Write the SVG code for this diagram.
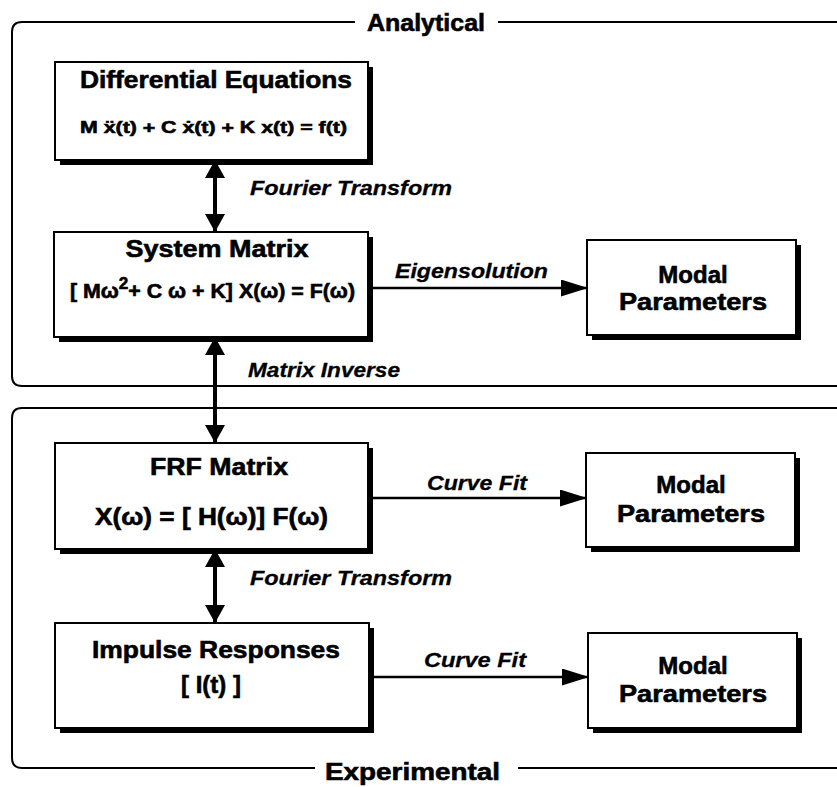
<svg xmlns="http://www.w3.org/2000/svg" width="837" height="787" viewBox="0 0 837 787">
<style>
.frame{fill:none;stroke:#000;stroke-width:2}
.shadow{fill:#000}
.box{fill:#fff;stroke:#000;stroke-width:2}
.t{font-family:"Liberation Sans",Arial,sans-serif;font-weight:bold;fill:#000;stroke:#000;stroke-width:0.6}
.h{font-size:24px;text-anchor:middle}
.f{font-size:20px}
.lbl{font-family:"Liberation Sans",Arial,sans-serif;font-weight:bold;font-style:italic;font-size:20px;fill:#000;stroke:#000;stroke-width:0.3}
.vl{stroke:#000;stroke-width:4;fill:none}
.hl{stroke:#000;stroke-width:2.5;fill:none}
</style>
<defs>
<marker id="vh" markerUnits="userSpaceOnUse" markerWidth="20" markerHeight="20" viewBox="0 0 18 20" refX="17" refY="10" orient="auto-start-reverse">
<path d="M0,0 L18,10 L0,20 Z" fill="#000"/>
</marker>
<marker id="hh" markerUnits="userSpaceOnUse" markerWidth="27" markerHeight="17" viewBox="0 0 27 17" refX="26" refY="8.5" orient="auto">
<path d="M0,0 L27,8.5 L0,17 Z" fill="#000"/>
</marker>
</defs>
<g id="frames">
<path class="frame" d="M355,22 H22 Q12,22 12,32 V376 Q12,386 22,386 H840 M498,22 H840"/>
<path class="frame" d="M840,408 H22 Q12,408 12,418 V758 Q12,768 22,768 H315 M518,768 H840"/>
<text class="t" x="367" y="31" font-size="24" textLength="118" lengthAdjust="spacingAndGlyphs">Analytical</text>
<text class="t" x="325" y="780" font-size="24" textLength="175" lengthAdjust="spacingAndGlyphs">Experimental</text>
</g>
<g id="connectors">
<line class="vl" x1="215" y1="161" x2="215" y2="231" marker-start="url(#vh)" marker-end="url(#vh)"/>
<line class="vl" x1="215" y1="338" x2="215" y2="442" marker-start="url(#vh)" marker-end="url(#vh)"/>
<line class="vl" x1="215" y1="550" x2="215" y2="622" marker-start="url(#vh)" marker-end="url(#vh)"/>
<line class="hl" x1="369" y1="288" x2="587" y2="288" marker-end="url(#hh)"/>
<line class="hl" x1="369" y1="498" x2="586" y2="498" marker-end="url(#hh)"/>
<line class="hl" x1="370" y1="677" x2="588" y2="677" marker-end="url(#hh)"/>
<text class="lbl" x="250" y="195" textLength="202" lengthAdjust="spacingAndGlyphs">Fourier Transform</text>
<text class="lbl" x="395" y="278" textLength="153" lengthAdjust="spacingAndGlyphs">Eigensolution</text>
<text class="lbl" x="248" y="377" textLength="152" lengthAdjust="spacingAndGlyphs">Matrix Inverse</text>
<text class="lbl" x="427" y="490" textLength="100" lengthAdjust="spacingAndGlyphs">Curve Fit</text>
<text class="lbl" x="250" y="585" textLength="202" lengthAdjust="spacingAndGlyphs">Fourier Transform</text>
<text class="lbl" x="424" y="667" textLength="102" lengthAdjust="spacingAndGlyphs">Curve Fit</text>
</g>
<g id="differential-equations">
<rect class="shadow" x="60" y="67" width="313" height="98"/>
<rect class="box" x="55" y="62" width="313" height="98"/>
<text class="t h" x="216" y="88" textLength="272" lengthAdjust="spacingAndGlyphs">Differential Equations</text>
<text class="t" x="80" y="133" font-size="17" textLength="267" lengthAdjust="spacingAndGlyphs">M ẍ(t) + C ẋ(t) + K x(t) = f(t)</text>
</g>
<g id="system-matrix">
<rect class="shadow" x="59" y="237" width="314" height="105"/>
<rect class="box" x="54" y="232" width="314" height="105"/>
<text class="t h" x="217" y="257" textLength="183" lengthAdjust="spacingAndGlyphs">System Matrix</text>
<text class="t f" x="70" y="298" textLength="285" lengthAdjust="spacingAndGlyphs">[ Mω<tspan font-size="16" dy="-9">2</tspan><tspan dy="9">+ C ω + K] X(ω) = F(ω)</tspan></text>
</g>
<g id="modal-1">
<rect class="shadow" x="592" y="245" width="209" height="95"/>
<rect class="box" x="587" y="240" width="209" height="95"/>
<text class="t h" x="693" y="283">Modal</text>
<text class="t h" x="693" y="310" textLength="148" lengthAdjust="spacingAndGlyphs">Parameters</text>
</g>
<g id="frf-matrix">
<rect class="shadow" x="60" y="448" width="313" height="106"/>
<rect class="box" x="55" y="443" width="313" height="106"/>
<text class="t h" x="219" y="475" textLength="138" lengthAdjust="spacingAndGlyphs">FRF Matrix</text>
<text class="t" x="95" y="525" font-size="23" textLength="233" lengthAdjust="spacingAndGlyphs">X(ω) = [ H(ω)] F(ω)</text>
</g>
<g id="modal-2">
<rect class="shadow" x="591" y="458" width="209" height="94"/>
<rect class="box" x="586" y="453" width="209" height="94"/>
<text class="t h" x="691" y="493">Modal</text>
<text class="t h" x="691" y="522" textLength="148" lengthAdjust="spacingAndGlyphs">Parameters</text>
</g>
<g id="impulse-responses">
<rect class="shadow" x="60" y="628" width="314" height="105"/>
<rect class="box" x="55" y="623" width="314" height="105"/>
<text class="t h" x="216" y="658" textLength="248" lengthAdjust="spacingAndGlyphs">Impulse Responses</text>
<text class="t h" x="211" y="693" font-size="22">[ I(t) ]</text>
</g>
<g id="modal-3">
<rect class="shadow" x="593" y="638" width="209" height="95"/>
<rect class="box" x="588" y="633" width="209" height="95"/>
<text class="t h" x="693" y="674">Modal</text>
<text class="t h" x="693" y="702" textLength="148" lengthAdjust="spacingAndGlyphs">Parameters</text>
</g>
</svg>
